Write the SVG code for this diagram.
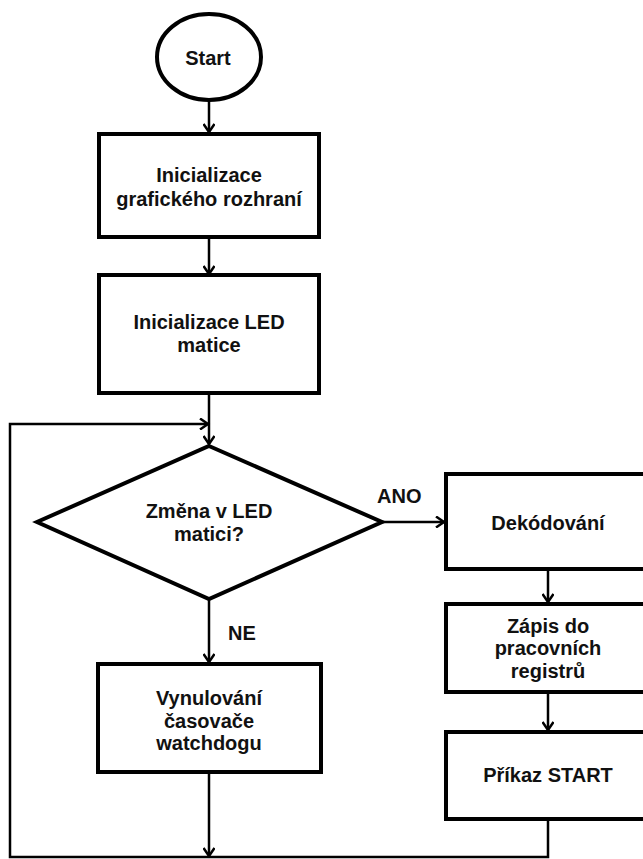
<svg xmlns="http://www.w3.org/2000/svg" width="643" height="859" viewBox="0 0 643 859">
<style>
.n{fill:#fff;stroke:#000;stroke-width:4}
.t{font-family:"Liberation Sans",Arial,sans-serif;font-weight:bold;font-size:20px;fill:#111;text-anchor:middle}
.l{font-family:"Liberation Sans",Arial,sans-serif;font-weight:bold;font-size:20px;fill:#111}
.c{fill:none;stroke:#000;stroke-width:2.5}
</style>
<defs>
<marker id="a" markerWidth="12" markerHeight="12" refX="9" refY="6" orient="auto" markerUnits="userSpaceOnUse">
<path d="M1,0.5 L9,6 L1,11.5" fill="none" stroke="#000" stroke-width="2.5"/>
</marker>
</defs>
<rect width="643" height="859" fill="#fff"/>
<g id="connectors">
<line class="c" x1="209" y1="100" x2="209" y2="132" marker-end="url(#a)"/>
<line class="c" x1="209" y1="237" x2="209" y2="274" marker-end="url(#a)"/>
<line class="c" x1="209" y1="393" x2="209" y2="444" marker-end="url(#a)"/>
<polyline class="c" points="209,772 209,856" marker-end="url(#a)"/>
<polyline class="c" points="548,819 548,857 10,857 10,424 208,424" marker-end="url(#a)"/>
<line class="c" x1="382" y1="522" x2="444" y2="522" marker-end="url(#a)"/>
<line class="c" x1="209" y1="599" x2="209" y2="662" marker-end="url(#a)"/>
<line class="c" x1="548" y1="569" x2="548" y2="602" marker-end="url(#a)"/>
<line class="c" x1="548" y1="692" x2="548" y2="730" marker-end="url(#a)"/>
<text class="l" x="377" y="503">ANO</text>
<text class="l" x="228" y="640">NE</text>
</g>
<g id="start">
<ellipse class="n" cx="209" cy="57" rx="52" ry="43" stroke-width="3.5"/>
<text class="t" x="208" y="65">Start</text>
</g>
<g id="init-gui">
<rect class="n" x="99" y="134" width="220" height="103"/>
<text class="t" x="209" y="182">Inicializace</text>
<text class="t" x="209" y="206">grafického rozhraní</text>
</g>
<g id="init-led">
<rect class="n" x="99" y="275" width="220" height="118"/>
<text class="t" x="209" y="329">Inicializace LED</text>
<text class="t" x="209" y="352">matice</text>
</g>
<g id="decision">
<polygon class="n" points="209,446 382,522 209,599 37,522"/>
<text class="t" x="209" y="518">Změna v LED</text>
<text class="t" x="209" y="541">matici?</text>
</g>
<g id="reset-wdt">
<rect class="n" x="98" y="664" width="223" height="108"/>
<text class="t" x="209" y="705">Vynulování</text>
<text class="t" x="209" y="728">časovače</text>
<text class="t" x="209" y="750">watchdogu</text>
</g>
<g id="decode">
<rect class="n" x="446" y="474" width="206" height="95"/>
<text class="t" x="548" y="530">Dekódování</text>
</g>
<g id="write-regs">
<rect class="n" x="446" y="604" width="206" height="88"/>
<text class="t" x="548" y="633">Zápis do</text>
<text class="t" x="548" y="655">pracovních</text>
<text class="t" x="548" y="678">registrů</text>
</g>
<g id="cmd-start">
<rect class="n" x="446" y="732" width="206" height="87"/>
<text class="t" x="548" y="782">Příkaz START</text>
</g>
</svg>
